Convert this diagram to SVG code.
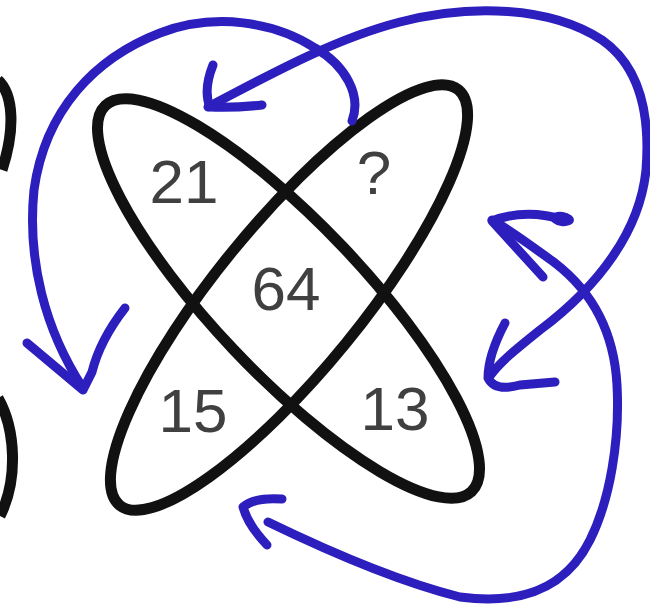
<svg xmlns="http://www.w3.org/2000/svg" width="650" height="608" viewBox="0 0 650 608">
<style>
.ring{fill:none;stroke:#111;stroke-width:11}
.num{font-family:"Liberation Sans",Arial,sans-serif;font-size:62px;fill:#404040;text-anchor:middle}
.pen{fill:none;stroke:#2d1ebe;stroke-width:9;stroke-linecap:round;stroke-linejoin:round}
</style>
<rect width="650" height="608" fill="#fff"/>
<g id="neighbour-edges">
<path class="ring" d="M -2,80 C 14,95 15,130 2,170"/>
<path class="ring" d="M -2,398 C 16,430 18,480 0,516"/>
</g>
<g id="ellipse-a"><ellipse class="ring" cx="288.5" cy="298.5" rx="266" ry="75" transform="rotate(46.5 288.5 298.5)"/></g>
<g id="ellipse-b"><ellipse class="ring" cx="289" cy="297.5" rx="268" ry="73" transform="rotate(-50.8 289 297.5)"/></g>
<g id="n21"><text class="num" x="184" y="203">21</text></g>
<g id="nq"><text class="num" x="374" y="194">?</text></g>
<g id="n64"><text class="num" x="286" y="310">64</text></g>
<g id="n15"><text class="num" x="193" y="432">15</text></g>
<g id="n13"><text class="num" x="395" y="430">13</text></g>
<g id="connectors">
<path class="pen" d="M 352,121 C 362,95 345,65 315,48 C 275,22 215,12 160,33 C 95,58 45,110 34,190 C 27,260 45,330 83,388"/>
<path class="pen" d="M 27,343 L 83,390 L 92,372 Q 100,340 125,308"/>
<path class="pen" d="M 208,107 C 260,80 330,40 400,22 C 470,4 550,6 602,40 C 642,68 650,120 646,170 C 640,230 600,285 540,330 C 515,350 500,362 490,376"/>
<path class="pen" d="M 213,65 Q 203,90 210,107 Q 235,108 262,105"/>
<path class="pen" d="M 505,323 Q 488,355 488,378 Q 495,392 520,385 L 555,382"/>
<path class="pen" d="M 268,522 C 330,552 400,582 460,597 C 520,605 565,590 590,540 C 610,500 620,440 617,385 C 614,330 590,290 555,263 C 530,245 510,230 492,220"/>
<path class="pen" d="M 282,499 Q 255,497 243,507 Q 248,525 267,545"/>
<path class="pen" d="M 543,277 L 492,221 Q 525,208 565,220"/>
<ellipse cx="562" cy="219" rx="12" ry="7" fill="#2d1ebe" transform="rotate(8 562 219)"/>
</g>
</svg>
